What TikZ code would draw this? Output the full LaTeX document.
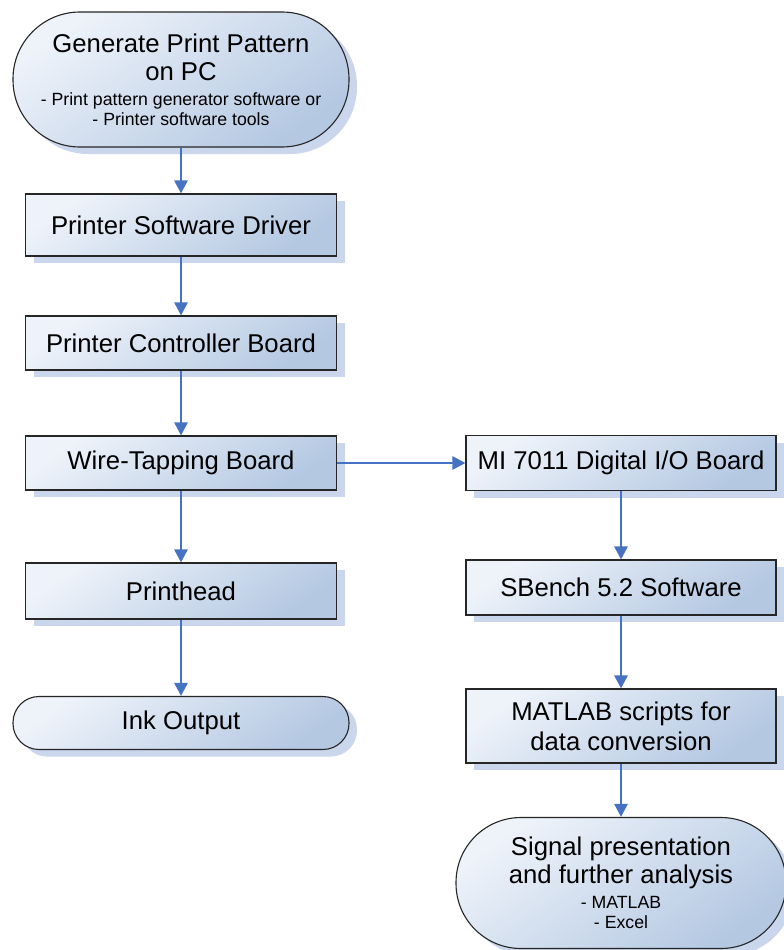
\documentclass[tikz,border=0pt]{standalone}
\usepackage{fontspec}
\setmainfont{Liberation Sans}
\usetikzlibrary{arrows.meta,shadows}
\definecolor{arrowc}{RGB}{70,114,196}
\definecolor{fillA}{RGB}{238,243,250}
\definecolor{fillB}{RGB}{180,200,226}
\definecolor{shadowc}{RGB}{202,214,236}
\begin{document}
\begin{tikzpicture}[x=1pt,y=-1pt,
  base/.style={draw=black!85, line width=1.1pt, top color=fillA, bottom color=fillB, shading angle=35,
    drop shadow={shadow xshift=8pt,shadow yshift=-7pt,fill=shadowc,opacity=1},
    inner sep=0pt, align=center, font=\fontsize{25.7}{28}\selectfont},
  procbox/.style={base, rectangle, minimum width=311pt, minimum height=#1},
  termbox/.style 2 args={base, rectangle, rounded corners=#2, minimum width=#1, minimum height=2*#2+1pt},
  arr/.style={draw=arrowc, line width=2.7pt, -{Triangle[width=13pt,length=13pt]}}
]
\useasboundingbox[fill=white] (0,0) rectangle (784,950);

% left column
\node[termbox={336pt}{67pt}] (gen) at (181,79.5)
  {Generate Print Pattern\\on PC\\[-3pt]{\fontsize{17.7}{20}\selectfont - Print pattern generator software or}\\[-8pt]{\fontsize{17.7}{20}\selectfont - Printer software tools}};
\node[procbox=62pt] (drv) at (181,225) {Printer Software Driver};
\node[procbox=54pt] (ctrl) at (181,343) {Printer Controller Board};
\node[procbox=54pt] (wire) at (181,463) {Wire-Tapping Board};
\node[procbox=56pt] (head) at (181,591) {Printhead};
\node[termbox={336pt}{26pt}] (ink) at (181,723) {Ink Output};

% right column
\node[procbox=55pt, minimum width=310pt] (mi) at (621,463) {MI 7011 Digital I/O Board};
\node[procbox=55pt, minimum width=310pt] (sb) at (621,587.5) {SBench 5.2 Software};
\node[procbox=74pt, minimum width=310pt, font=\fontsize{25.7}{30}\selectfont] (mat) at (621,726) {MATLAB scripts for\\data conversion};
\node[termbox={330pt}{65pt}] (sig) at (621,883)
  {Signal presentation\\and further analysis\\[-3pt]{\fontsize{17.7}{20}\selectfont - MATLAB}\\[-8pt]{\fontsize{17.7}{20}\selectfont - Excel}};

% connectors
\draw[arr] (gen) -- (drv);
\draw[arr] (drv) -- (ctrl);
\draw[arr] (ctrl) -- (wire);
\draw[arr] (wire) -- (head);
\draw[arr] (head) -- (ink);
\draw[arr] (wire) -- (mi);
\draw[arr] (mi) -- (sb);
\draw[arr] (sb) -- (mat);
\draw[arr] (mat) -- (sig);
\end{tikzpicture}
\end{document}
